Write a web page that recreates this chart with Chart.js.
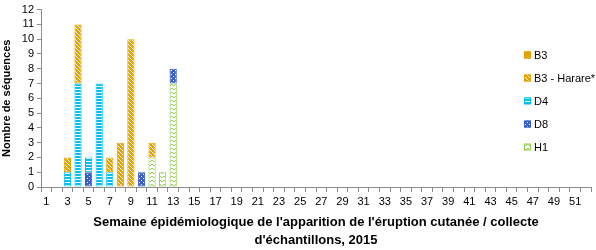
<!DOCTYPE html>
<html>
<head>
<meta charset="utf-8">
<script src="https://cdn.jsdelivr.net/npm/chart.js@4"></script>
<style>
  html, body { margin: 0; padding: 0; background: #fff; }
  #wrap { width: 596px; height: 250px; }
</style>
</head>
<body>
<div id="wrap"><canvas id="seqChart" width="596" height="250"></canvas></div>
<script>
// semaines 1..52
var weeks = [1,2,3,4,5,6,7,8,9,10,11,12,13,14,15,16,17,18,19,20,21,22,23,24,25,26,
             27,28,29,30,31,32,33,34,35,36,37,38,39,40,41,42,43,44,45,46,47,48,49,50,51,52];
var yTicks = [0,1,2,3,4,5,6,7,8,9,10,11,12];

// nombre de sequences par semaine (semaine: valeur)
var b3       = {};
var b3Harare = {3: 1, 4: 4, 7: 1, 8: 3, 9: 10, 11: 1};
var d4       = {3: 1, 4: 7, 5: 1, 6: 7, 7: 1};
var d8       = {5: 1, 10: 1, 13: 1};
var h1       = {11: 2, 12: 1, 13: 7};

var ORANGE = '#E3A200', CYAN = '#00BFF0', BLUE = '#3A5EC8', GREEN = '#92D050';

function tile(w, h, draw) {
    var c = document.createElement('canvas');
    c.width = w; c.height = h;
    var g = c.getContext('2d');
    draw(g);
    return document.getElementById('seqChart').getContext('2d').createPattern(c, 'repeat');
}
function px(g, col, pts) {
    g.fillStyle = col;
    pts.forEach(function(p) { g.fillRect(p[0], p[1], 1, 1); });
}

var patHarare = tile(4, 4, function(g) {
    g.fillStyle = ORANGE; g.fillRect(0, 0, 4, 4);
    px(g, '#fff', [[0,0],[1,1],[2,2],[3,3]]);
});
var patD4 = tile(3, 3, function(g) {
    g.fillStyle = '#fff'; g.fillRect(0, 0, 3, 3);
    g.fillStyle = CYAN; g.fillRect(0, 0, 3, 2);
});
var patD8 = tile(4, 4, function(g) {
    g.fillStyle = BLUE; g.fillRect(0, 0, 4, 4);
    px(g, '#fff', [[1,0],[3,2]]);
});
var patH1 = tile(4, 4, function(g) {
    g.fillStyle = '#fff'; g.fillRect(0, 0, 4, 4);
    px(g, GREEN, [[0,0],[1,1],[2,1],[3,0]]);
});

function series(map) {
    return weeks.map(function(w) { return map[w] || 0; });
}

// ordre d'empilement : H1 en bas, B3 en haut
var legendItems = [
    { label: 'B3',             fill: ORANGE,    border: ORANGE, data: b3 },
    { label: 'B3 - Harare*',   fill: patHarare, border: ORANGE, data: b3Harare },
    { label: 'D4',             fill: patD4,     border: CYAN,   data: d4 },
    { label: 'D8',             fill: patD8,     border: BLUE,   data: d8 },
    { label: 'H1',             fill: patH1,     border: GREEN,  data: h1 }
];

var datasets = legendItems.slice().reverse().map(function(s) {
    return {
        label: s.label,
        data: series(s.data),
        backgroundColor: s.fill,
        borderColor: s.border,
        borderWidth: 1,
        borderSkipped: false,
        barPercentage: 0.68,
        categoryPercentage: 1.0
    };
});

var sideLegend = {
    id: 'sideLegend',
    afterDraw: function(chart) {
        var ctx = chart.ctx;
        ctx.save();
        ctx.font = '11px "Liberation Sans", Arial, sans-serif';
        ctx.textBaseline = 'middle';
        legendItems.forEach(function(s, i) {
            var y = 55 + i * 23;
            ctx.fillStyle = s.fill;
            ctx.fillRect(524, y - 3.5, 7, 7);
            ctx.strokeStyle = s.border;
            ctx.lineWidth = 1;
            ctx.strokeRect(524.5, y - 3, 6, 6);
            ctx.fillStyle = '#000';
            ctx.fillText(s.label, 534, y + 0.5);
        });
        ctx.restore();
    }
};

var axisColor = '#8c8c8c';
var tickFont = { family: '"Liberation Sans", Arial, sans-serif', size: 11 };
var titleFont = { family: '"Liberation Sans", Arial, sans-serif', size: 13, weight: 'bold', lineHeight: 1.35 };

new Chart(document.getElementById('seqChart').getContext('2d'), {
    type: 'bar',
    data: { labels: weeks, datasets: datasets },
    plugins: [sideLegend],
    options: {
        responsive: false,
        animation: false,
        layout: { padding: { top: 0, right: 5, left: 0, bottom: 1 } },
        plugins: { legend: { display: false }, tooltip: { enabled: false } },
        scales: {
            x: {
                stacked: true,
                grid: { display: true, drawOnChartArea: false, offset: true, color: axisColor, tickLength: 5 },
                border: { color: axisColor },
                ticks: {
                    autoSkip: false, maxRotation: 0, color: '#000', font: tickFont, padding: 3,
                    callback: function(v, i) { return weeks[i] % 2 === 1 ? String(weeks[i]) : ''; }
                },
                title: {
                    display: true,
                    text: ["Semaine épidémiologique de l'apparition de l'éruption cutanée / collecte",
                           "d'échantillons, 2015"],
                    color: '#000', font: titleFont, padding: { top: 4, bottom: 0 }
                },
                afterFit: function(scale) { scale.height = 62; }
            },
            y: {
                stacked: true,
                min: yTicks[0], max: yTicks[yTicks.length - 1],
                afterBuildTicks: function(scale) {
                    scale.ticks = yTicks.map(function(v) { return { value: v }; });
                },
                grid: { display: true, drawOnChartArea: false, color: axisColor, tickLength: 4 },
                border: { color: axisColor },
                ticks: { autoSkip: false, stepSize: 1, color: '#000', font: tickFont, padding: 3 },
                title: {
                    display: true, text: 'Nombre de séquences',
                    color: '#000', font: { family: titleFont.family, size: 11, weight: 'bold' },
                    padding: { top: 0, bottom: 2 }
                },
                afterFit: function(scale) { scale.width = 41; }
            }
        }
    }
});
</script>
</body>
</html>
